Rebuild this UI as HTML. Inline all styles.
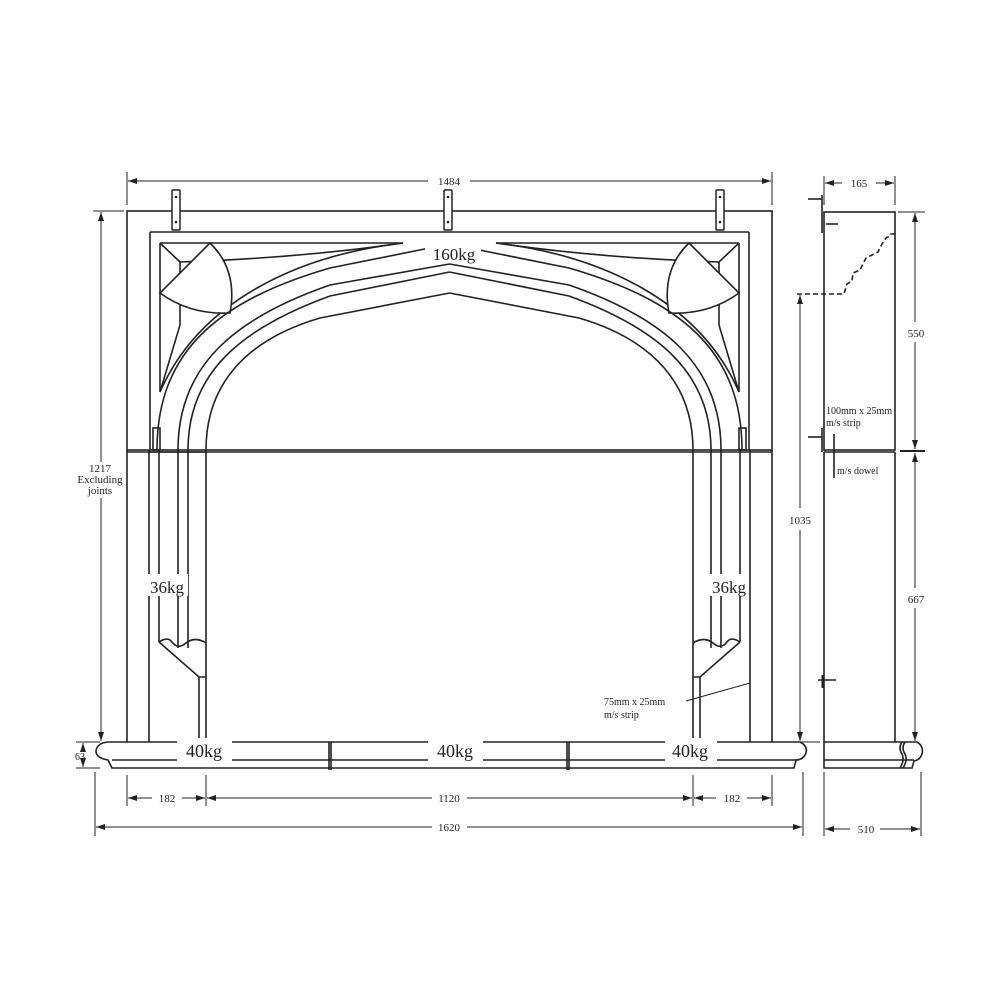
<!DOCTYPE html>
<html><head><meta charset="utf-8"><style>
html,body{margin:0;padding:0;background:#fff}
svg{display:block}
text{font-family:"Liberation Serif",serif;fill:#222}
</style></head><body>
<svg width="1000" height="1000" viewBox="0 0 1000 1000" xmlns="http://www.w3.org/2000/svg">
<defs>
<marker id="a" markerWidth="10" markerHeight="8" refX="9" refY="4" orient="auto-start-reverse" markerUnits="userSpaceOnUse"><path d="M0,1 L9,4 L0,7 Z" fill="#222"/></marker>
<g id="half" fill="none" stroke="#222" stroke-width="1.6">
  <!-- jamb -->
  <line x1="127" y1="450" x2="127" y2="742"/>
  <line x1="149" y1="450" x2="149" y2="742"/>
  <line x1="159" y1="450" x2="159" y2="642"/>
  <line x1="178" y1="450" x2="178" y2="648"/>
  <line x1="188" y1="450" x2="188" y2="648"/>
  <line x1="206" y1="450" x2="206" y2="742"/>
  <path d="M159 642 Q168 636 172 642 Q178 650 186 643 Q195 636 206 643"/>
  <path d="M159 642 L199 677 L206 677"/>
  <line x1="199" y1="677" x2="199" y2="742"/>
  <!-- frieze spandrel -->
  <line x1="150" y1="232" x2="150" y2="450"/>
  <line x1="150" y1="232" x2="449.5" y2="232"/>
  <line x1="160" y1="243" x2="160" y2="392"/>
  <line x1="160" y1="243" x2="403" y2="243"/>
  <path d="M403 243 Q300 258 180 262"/>
  <path d="M403 243 C300 255 200 300 160 392"/>
  <line x1="160" y1="243" x2="180" y2="262"/>
  <line x1="180" y1="262" x2="180" y2="325"/>
  <line x1="180" y1="325" x2="160" y2="392"/>
  <path d="M210 243 L160 293 Q190 315 230 313 Q238 270 210 243 Z" fill="#fff"/>
  <!-- arches -->
  <path d="M157 450 C157 350 220 300 330 268 L449.5 244"/>
  <path d="M178 450 C178 365 235 318 330 285 L449.5 264"/>
  <path d="M188 450 C188 372 242 328 330 296 L449.5 272"/>
  <path d="M206 450 C206 385 245 340 320 318 L449.5 293"/>
  <!-- bracket -->
  <rect x="153" y="428" width="7" height="22"/>
</g>
</defs>

<!-- front elevation -->
<g fill="none" stroke="#222" stroke-width="1.6">
  <rect x="127" y="211" width="645" height="239"/>
  <line x1="127" y1="452" x2="772" y2="452"/>
  <line x1="149" y1="452" x2="206" y2="452"/>
</g>
<use href="#half"/>
<use href="#half" transform="translate(899,0) scale(-1,1)"/>

<!-- top brackets -->
<g fill="#fff" stroke="#222" stroke-width="1.5">
  <rect x="172" y="190" width="8" height="40" rx="1"/>
  <rect x="444" y="190" width="8" height="40" rx="1"/>
  <rect x="716" y="190" width="8" height="40" rx="1"/>
</g>
<g fill="#222">
  <circle cx="176" cy="197" r="1.3"/><circle cx="176" cy="222" r="1.3"/>
  <circle cx="448" cy="197" r="1.3"/><circle cx="448" cy="222" r="1.3"/>
  <circle cx="720" cy="197" r="1.3"/><circle cx="720" cy="222" r="1.3"/>
</g>

<!-- hearth -->
<g fill="none" stroke="#222" stroke-width="1.6">
  <path d="M108 742 L800 742 Q808 746 806 753 Q803 760 796 760 L794 768 L112 768 L108 760 Q96 758 96 751 Q97 743 108 742 Z"/>
  <line x1="112" y1="760" x2="796" y2="760"/>
  <line x1="329" y1="742" x2="329" y2="770"/>
  <line x1="331" y1="742" x2="331" y2="770"/>
  <line x1="567" y1="742" x2="567" y2="770"/>
  <line x1="569" y1="742" x2="569" y2="770"/>
</g>

<!-- labels with white bg -->
<g fill="#fff">
  <rect x="425" y="243" width="56" height="20"/>
  <rect x="177" y="738" width="55" height="24"/>
  <rect x="428" y="738" width="55" height="24"/>
  <rect x="665" y="738" width="52" height="24"/>
  <rect x="146" y="574" width="42" height="22"/>
  <rect x="707" y="574" width="42" height="22"/>
</g>
<text x="454" y="260" font-size="17" text-anchor="middle">160kg</text>
<text x="167" y="593" font-size="17" text-anchor="middle">36kg</text>
<text x="729" y="593" font-size="17" text-anchor="middle">36kg</text>
<text x="204" y="757" font-size="18" text-anchor="middle">40kg</text>
<text x="455" y="757" font-size="18" text-anchor="middle">40kg</text>
<text x="690" y="757" font-size="18" text-anchor="middle">40kg</text>
<text x="604" y="705" font-size="10">75mm x 25mm</text>
<text x="604" y="718" font-size="10">m/s strip</text>
<line x1="686" y1="701" x2="750" y2="683" stroke="#222" stroke-width="1"/>

<!-- dimensions front -->
<g stroke="#222" stroke-width="1" fill="none">
  <line x1="127" y1="172" x2="127" y2="205"/><line x1="772" y1="172" x2="772" y2="205"/>
  <line x1="128" y1="181" x2="428" y2="181" marker-start="url(#a)"/>
  <line x1="470" y1="181" x2="771" y2="181" marker-end="url(#a)"/>
  <line x1="93" y1="211" x2="124" y2="211"/>
  <line x1="101" y1="212" x2="101" y2="462" marker-start="url(#a)"/>
  <line x1="101" y1="498" x2="101" y2="741" marker-end="url(#a)"/>
  <line x1="76" y1="742" x2="100" y2="742"/><line x1="76" y1="768" x2="100" y2="768"/>
  <line x1="83" y1="749" x2="83" y2="743" marker-end="url(#a)"/>
  <line x1="83" y1="762" x2="83" y2="767" marker-end="url(#a)"/>
  <line x1="127" y1="775" x2="127" y2="806"/><line x1="206" y1="775" x2="206" y2="806"/>
  <line x1="693" y1="775" x2="693" y2="806"/><line x1="772" y1="775" x2="772" y2="806"/>
  <line x1="128" y1="798" x2="152" y2="798" marker-start="url(#a)"/><line x1="182" y1="798" x2="205" y2="798" marker-end="url(#a)"/>
  <line x1="207" y1="798" x2="432" y2="798" marker-start="url(#a)"/><line x1="467" y1="798" x2="692" y2="798" marker-end="url(#a)"/>
  <line x1="694" y1="798" x2="716" y2="798" marker-start="url(#a)"/><line x1="747" y1="798" x2="771" y2="798" marker-end="url(#a)"/>
  <line x1="95" y1="772" x2="95" y2="836"/><line x1="803" y1="772" x2="803" y2="836"/>
  <line x1="96" y1="827" x2="432" y2="827" marker-start="url(#a)"/><line x1="467" y1="827" x2="802" y2="827" marker-end="url(#a)"/>
</g>
<g font-size="11" text-anchor="middle">
  <text x="449" y="185">1484</text>
  <text x="100" y="472">1217</text>
  <text x="100" y="483">Excluding</text>
  <text x="100" y="494">joints</text>
  <text x="80" y="760" font-size="10">63</text>
  <text x="167" y="802">182</text>
  <text x="449" y="802">1120</text>
  <text x="732" y="802">182</text>
  <text x="449" y="831">1620</text>
</g>

<!-- side view -->
<g fill="none" stroke="#222" stroke-width="1.6">
  <rect x="824" y="212" width="71" height="238"/>
  <line x1="824" y1="452" x2="824" y2="742"/><line x1="895" y1="452" x2="895" y2="742"/>
  <line x1="824" y1="452" x2="895" y2="452"/>
  <line x1="822" y1="195" x2="822" y2="233"/>
  <line x1="808" y1="199" x2="822" y2="199"/>
  <line x1="826" y1="224" x2="838" y2="224"/>
  <line x1="822" y1="428" x2="822" y2="452"/><line x1="808" y1="437" x2="822" y2="437"/>
  <line x1="834" y1="434" x2="834" y2="478"/>
  <line x1="818" y1="680" x2="836" y2="680"/><line x1="823" y1="675" x2="823" y2="688" stroke-width="3"/>
  <path d="M824 742 L917 742 Q924 746 922 754 Q920 760 914 761 L912 768 L824 768 Z"/>
  <line x1="824" y1="760" x2="914" y2="760"/>
  <path d="M902 742 Q898 748 902 754 Q905 760 900 768"/>
  <path d="M905 742 Q901 748 905 754 Q908 760 903 768"/>
  <path d="M797 294 L844 294 L847 284 L852 281 L853 273 L860 270 L866 258 L878 252 L882 244 L886 238 L890 236 L891 234 L895 234" stroke-dasharray="5,3"/>
</g>
<g stroke="#222" stroke-width="1" fill="none">
  <line x1="824" y1="176" x2="824" y2="205"/><line x1="895" y1="176" x2="895" y2="205"/>
  <line x1="825" y1="183" x2="842" y2="183" marker-start="url(#a)"/><line x1="876" y1="183" x2="894" y2="183" marker-end="url(#a)"/>
  <line x1="898" y1="212" x2="925" y2="212"/>
  <line x1="915" y1="213" x2="915" y2="322" marker-start="url(#a)"/><line x1="915" y1="342" x2="915" y2="449" marker-end="url(#a)"/>
  <line x1="900" y1="451" x2="925" y2="451" stroke-width="2"/>
  <line x1="915" y1="453" x2="915" y2="588" marker-start="url(#a)"/><line x1="915" y1="608" x2="915" y2="741" marker-end="url(#a)"/>
  <line x1="800" y1="295" x2="800" y2="508" marker-start="url(#a)"/><line x1="800" y1="530" x2="800" y2="741" marker-end="url(#a)"/>
  <line x1="792" y1="742" x2="820" y2="742"/>
  <line x1="824" y1="772" x2="824" y2="836"/><line x1="921" y1="772" x2="921" y2="836"/>
  <line x1="825" y1="829" x2="850" y2="829" marker-start="url(#a)"/><line x1="880" y1="829" x2="920" y2="829" marker-end="url(#a)"/>
</g>
<g font-size="11" text-anchor="middle">
  <text x="859" y="187">165</text>
  <text x="916" y="337">550</text>
  <text x="916" y="603">667</text>
  <text x="800" y="524">1035</text>
  <text x="866" y="833">510</text>
</g>
<text x="826" y="414" font-size="10">100mm x 25mm</text>
<text x="826" y="426" font-size="10">m/s strip</text>
<text x="837" y="474" font-size="10">m/s dowel</text>
</svg>
</body></html>
